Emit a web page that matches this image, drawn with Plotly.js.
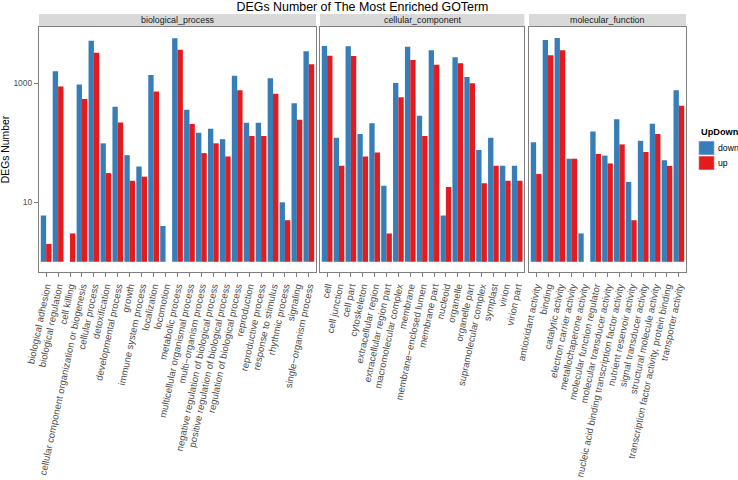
<!DOCTYPE html>
<html>
<head>
<meta charset="utf-8">
<script src="https://cdn.plot.ly/plotly-3.0.1.min.js"></script>
<style>
  html, body { margin: 0; padding: 0; background: #fff; }
  #grafico { width: 738px; height: 480px; }
</style>
</head>
<body>
<div id="grafico"></div>
<script>
// GO terms of each facet
const bpTerms = ['biological adhesion', 'biological regulation', 'cell killing',
    'cellular component organization or biogenesis', 'cellular process', 'detoxification',
    'developmental process', 'growth', 'immune system process', 'localization', 'locomotion',
    'metabolic process', 'multicellular organismal process', 'multi\u2212organism process',
    'negative regulation of biological process', 'positive regulation of biological process',
    'regulation of biological process', 'reproduction', 'reproductive process',
    'response to stimulus', 'rhythmic process', 'signaling', 'single\u2212organism process'];
const ccTerms = ['cell', 'cell junction', 'cell part', 'cytoskeleton', 'extracellular region',
    'extracellular region part', 'macromolecular complex', 'membrane',
    'membrane\u2212enclosed lumen', 'membrane part', 'nucleoid', 'organelle', 'organelle part',
    'supramolecular complex', 'symplast', 'virion', 'virion part'];
const mfTerms = ['antioxidant activity', 'binding', 'catalytic activity', 'electron carrier activity',
    'metallochaperone activity', 'molecular function regulator', 'molecular transducer activity',
    'nucleic acid binding transcription factor activity', 'nutrient reservoir activity',
    'signal transducer activity', 'structural molecule activity',
    'transcription factor activity, protein binding', 'transporter activity'];

// DEG counts (read off the log scale), null = no bar
const bpDown = [6, 1590, null, 950, 5200, 98, 405, 62, 40, 1380, 4, 5700, 360, 148, 172, 115, 1340, 218, 218, 1213, 10, 460, 3450];
const bpUp   = [2, 880, 3, 545, 3270, 31, 220, 23, 27, 730, null, 3650, 207, 67, 98, 59, 763, 130, 130, 670, 5, 245, 2090];
const ccDown = [4240, 122, 4180, 141, 214, 19, 1010, 4120, 285, 3590, 6, 2730, 1275, 76, 122, 41, 41];
const ccUp   = [2900, 41, 2870, 59, 69, 3, 580, 2460, 130, 2055, 18, 2170, 1000, 21, 41, 23, 23];
const mfDown = [102, 5350, 5780, 54, 3, 155, 61, 248, 22, 108, 210, 51, 763];
const mfUp   = [30, 2950, 3590, 54, null, 65, 45, 94, 5, 70, 141, 41, 420];

const facetNames = ['biological_process', 'cellular_component', 'molecular_function'];
const groupNames = ['down', 'up'];
const groupColors = ['#377EB8', '#E41A1C'];

// plot area in pixels
const W = 738, H = 480;
const M = { l: 39, r: 52, t: 27, b: 208 };
const plotW = W - M.l - M.r;
const plotH = H - M.t - M.b;
const px2x = (px) => (px - M.l) / plotW;
const px2y = (py) => (H - M.b - py) / plotH;

// facet panels, pixel columns
const panels = [[39, 316], [320, 524.3], [529, 686]];
const domains = panels.map(p => [px2x(p[0]), Math.min(1, px2x(p[1]))]);

const font = 'Liberation Sans, Arial, Helvetica, sans-serif';

// ggplot draws log bars from 10^0 = 1
function barTrace(terms, values, g, i) {
    return {
        type: 'bar',
        x: terms,
        y: values.map(v => v === null ? null : v - 1),
        base: 1,
        name: groupNames[g],
        marker: { color: groupColors[g], line: { width: 0 } },
        xaxis: i === 0 ? 'x' : 'x' + (i + 1),
        yaxis: i === 0 ? 'y' : 'y' + (i + 1),
        showlegend: false,
        hoverinfo: 'x+name',
    };
}

const facets = [[bpTerms, bpDown, bpUp], [ccTerms, ccDown, ccUp], [mfTerms, mfDown, mfUp]];
const traces = [];
facets.forEach((f, i) => {
    traces.push(barTrace(f[0], f[1], 0, i));
    traces.push(barTrace(f[0], f[2], 1, i));
});

const layout = {
    width: W,
    height: H,
    margin: M,
    paper_bgcolor: '#fff',
    plot_bgcolor: '#fff',
    font: { family: font, color: '#000' },
    barmode: 'group',
    bargap: 0.1,
    bargroupgap: 0,
    showlegend: false,
    title: {
        text: 'DEGs Number of The Most Enriched GOTerm',
        font: { size: 12.4, color: '#000' },
        xref: 'container', x: 362.5 / W, xanchor: 'center',
        yref: 'container', y: 1 - 6.5 / H, yanchor: 'middle',
    },
    shapes: [],
    annotations: [],
};

facets.forEach((f, i) => {
    const sx = i === 0 ? '' : String(i + 1);
    layout['xaxis' + sx] = {
        domain: domains[i],
        anchor: 'y' + sx,
        type: 'category',
        range: [-0.6, f[0].length - 0.4],
        tickmode: 'linear', tick0: 0, dtick: 1,  // every term gets its label
        showgrid: false,
        zeroline: false,
        showline: true, mirror: true, linecolor: '#808080', linewidth: 1,
        ticks: 'outside', ticklen: 4, tickcolor: '#808080',
        tickangle: -78,
        tickfont: { size: 9.6, color: '#4d4d4d' },
        fixedrange: true,
    };
    layout['yaxis' + sx] = {
        anchor: 'x' + sx,
        type: 'log',
        range: [-0.171, 3.946],
        showgrid: false,
        zeroline: false,
        showline: true, mirror: true, linecolor: '#808080', linewidth: 1,
        tickvals: [10, 1000],
        ticktext: ['10', '1000'],
        ticks: i === 0 ? 'outside' : '',
        ticklen: 4, tickcolor: '#808080',
        showticklabels: i === 0,
        tickfont: { size: 8.5, color: '#4d4d4d' },
        fixedrange: true,
    };

    // strip on top of each panel
    layout.shapes.push({
        type: 'rect', xref: 'paper', yref: 'paper',
        x0: domains[i][0], x1: domains[i][1],
        y0: px2y(26), y1: px2y(14),
        fillcolor: '#d9d9d9', line: { width: 0 },
    });
    layout.annotations.push({
        text: facetNames[i], xref: 'paper', yref: 'paper',
        x: (domains[i][0] + domains[i][1]) / 2, y: px2y(20),
        xanchor: 'center', yanchor: 'middle', showarrow: false,
        font: { size: 8.9, color: '#1a1a1a' },
    });
});

layout.yaxis.title = { text: 'DEGs Number', font: { size: 10.4, color: '#000' }, standoff: 3 };

// legend drawn by hand so it sits like the ggplot guide
layout.annotations.push({
    text: '<b>UpDown</b>', xref: 'paper', yref: 'paper',
    x: px2x(698.5), y: px2y(132.3), xanchor: 'left', yanchor: 'middle',
    showarrow: false, font: { size: 9.2, color: '#000' },
});
groupNames.forEach((g, k) => {
    const top = 141 + k * 15;
    layout.shapes.push({
        type: 'rect', xref: 'paper', yref: 'paper',
        x0: px2x(698.7), x1: px2x(714.3), y0: px2y(top + 14), y1: px2y(top),
        fillcolor: groupColors[k], line: { color: '#f2f2f2', width: 0.6 },
    });
    layout.annotations.push({
        text: g, xref: 'paper', yref: 'paper',
        x: px2x(715.5), y: px2y(top + 7.3), xanchor: 'left', yanchor: 'middle',
        showarrow: false, font: { size: 8.7, color: '#000' },
    });
});

Plotly.newPlot('grafico', traces, layout, { displayModeBar: false, staticPlot: true });
</script>
</body>
</html>
